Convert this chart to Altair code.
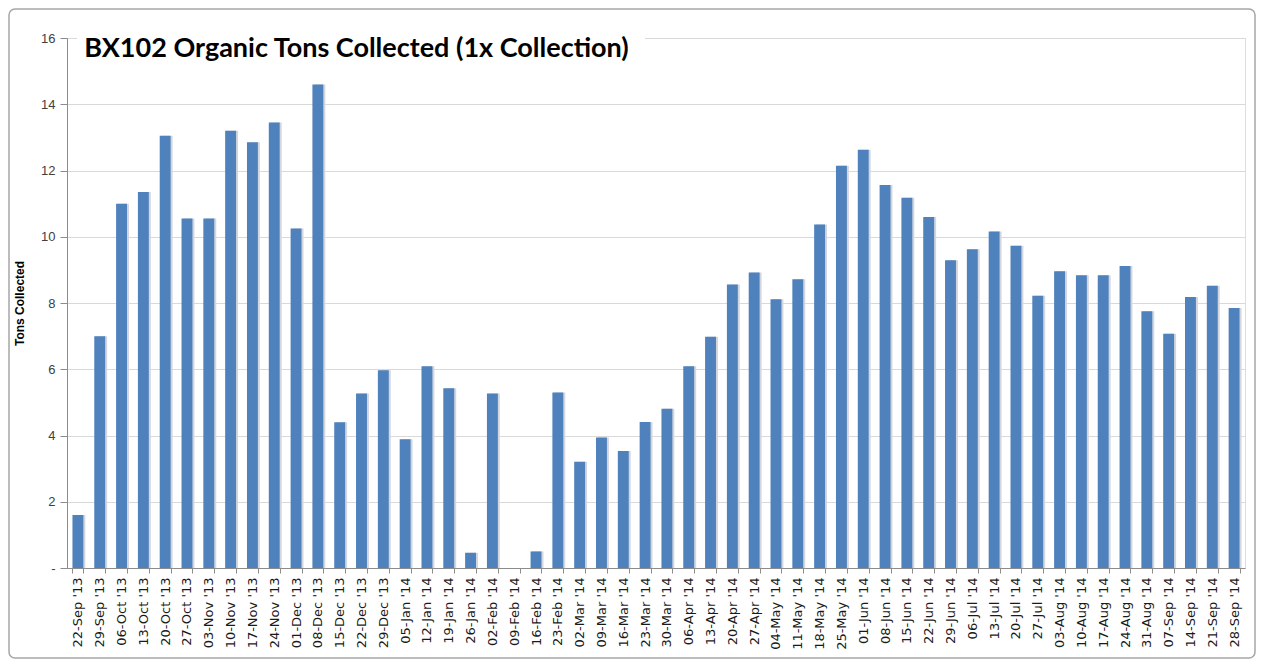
import altair as alt
import pandas as pd

weeks = ["22-Sep '13", "29-Sep '13", "06-Oct '13", "13-Oct '13", "20-Oct '13", "27-Oct '13",
         "03-Nov '13", "10-Nov '13", "17-Nov '13", "24-Nov '13", "01-Dec '13", "08-Dec '13",
         "15-Dec '13", "22-Dec '13", "29-Dec '13", "05-Jan '14", "12-Jan '14", "19-Jan '14",
         "26-Jan '14", "02-Feb '14", "09-Feb '14", "16-Feb '14", "23-Feb '14", "02-Mar '14",
         "09-Mar '14", "16-Mar '14", "23-Mar '14", "30-Mar '14", "06-Apr '14", "13-Apr '14",
         "20-Apr '14", "27-Apr '14", "04-May '14", "11-May '14", "18-May '14", "25-May '14",
         "01-Jun '14", "08-Jun '14", "15-Jun '14", "22-Jun '14", "29-Jun '14", "06-Jul '14",
         "13-Jul '14", "20-Jul '14", "27-Jul '14", "03-Aug '14", "10-Aug '14", "17-Aug '14",
         "24-Aug '14", "31-Aug '14", "07-Sep '14", "14-Sep '14", "21-Sep '14", "28-Sep '14"]

tons = [1.6, 7.0, 11.0, 11.35, 13.05, 10.55, 10.55, 13.2, 12.85, 13.45, 10.25, 14.6,
        4.4, 5.27, 5.97, 3.89, 6.09, 5.43, 0.46, 5.27, 0.0, 0.5, 5.3, 3.21,
        3.94, 3.53, 4.41, 4.81, 6.09, 6.98, 8.56, 8.92, 8.11, 8.72, 10.37, 12.14,
        12.63, 11.56, 11.18, 10.6, 9.29, 9.62, 10.16, 9.73, 8.22, 8.96, 8.84, 8.84,
        9.12, 7.75, 7.07, 8.18, 8.52, 7.85]

y_ticks = [0, 2, 4, 6, 8, 10, 12, 14, 16]

df = pd.DataFrame({"week": weeks, "tons": tons})

x_enc = alt.X("week:N", sort=weeks,
              scale=alt.Scale(paddingInner=0.5, paddingOuter=0.25),
              axis=alt.Axis(title=None, labelAngle=-90, labelAlign="right", labelBaseline="middle",
                            labelFont="DejaVu Sans", labelFontSize=13, labelColor="#1a1a1a",
                            labelPadding=4, tickBand="extent", tickSize=5, tickColor="#8c8c8c",
                            domainColor="#8c8c8c", grid=False, labelOverlap=False))

y_enc = alt.Y("tons:Q", scale=alt.Scale(domain=[0, 16], nice=False),
              axis=alt.Axis(title="Tons Collected", titleFont="Liberation Sans", titleFontSize=12,
                            titleFontWeight="bold", titleColor="#000000", titlePadding=14,
                            values=y_ticks, labelExpr="datum.value == 0 ? '-' : datum.label",
                            labelFont="Liberation Sans", labelFontSize=13, labelColor="#404040",
                            labelPadding=5, tickSize=7, tickColor="#8c8c8c", domainColor="#8c8c8c",
                            gridColor="#d9d9d9", gridWidth=1))

base = alt.Chart(df)

shadow = base.mark_bar(color="#d3d7dd", xOffset=2).encode(x=x_enc, y=y_enc)
bars = base.mark_bar(color="#4f81bd").encode(x=x_enc, y=y_enc)

title_box = alt.Chart(alt.Data(values=[{}])).mark_rect(fill="#ffffff", stroke=None).encode(
    x=alt.value(10), x2=alt.value(578), y=alt.value(-6), y2=alt.value(28))

frame = alt.Chart(alt.Data(values=[{}])).mark_rect(
    fill=None, stroke="#a6a6a6", strokeWidth=1.5, cornerRadius=6
).encode(x=alt.value(-58), x2=alt.value(1188), y=alt.value(-29), y2=alt.value(620))

chart = alt.layer(title_box, shadow, bars, frame).properties(
    width=1178, height=530,
    title=alt.TitleParams("BX102 Organic Tons Collected (1x Collection)", anchor="start",
                          font="Lato", fontSize=27, fontWeight="bold", color="#000000",
                          dx=76, dy=59),
    autosize=alt.AutoSizeParams(type="none"),
    padding={"left": 59, "top": 30, "right": 14, "bottom": 93},
).configure_view(stroke=None).configure(background="#ffffff")

chart.save("out.html", embed_options={"renderer": "svg", "actions": False})
